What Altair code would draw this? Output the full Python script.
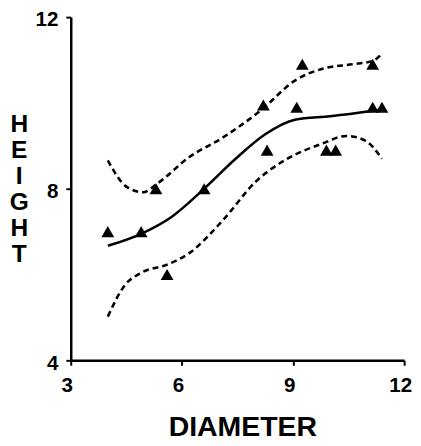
import altair as alt
import pandas as pd

# Observed points
pt_x = [4.0, 4.9, 5.3, 5.6, 6.6, 8.2, 8.3, 9.1, 9.25, 9.9, 10.15, 11.15, 11.15, 11.4]
pt_y = [7.0, 7.0, 8.0, 6.0, 8.0, 9.95, 8.9, 9.9, 10.9, 8.9, 8.9, 10.9, 9.9, 9.9]

# Fitted curve
fit_x = [4.0, 4.9, 5.7, 6.6, 7.45, 8.25, 9.05, 10.0, 11.4]
fit_y = [6.67, 6.95, 7.33, 8.0, 8.7, 9.27, 9.61, 9.69, 9.84]

# Upper confidence band
up_x = [4.0, 4.5, 4.95, 5.35, 6.2, 7.1, 8.15, 9.05, 9.9, 10.6, 11.15, 11.4]
up_y = [8.66, 8.05, 7.92, 8.13, 8.74, 9.19, 9.84, 10.52, 10.82, 10.9, 10.98, 11.15]

# Lower confidence band
lo_x = [4.0, 4.45, 4.9, 5.6, 6.2, 7.1, 8.0, 8.85, 9.75, 10.45, 10.95, 11.4]
lo_y = [5.02, 5.74, 6.04, 6.23, 6.5, 7.26, 8.17, 8.7, 9.04, 9.23, 9.12, 8.7]

pts = pd.DataFrame({"x": pt_x, "y": pt_y})
fit = pd.DataFrame({"x": fit_x, "y": fit_y})
up = pd.DataFrame({"x": up_x, "y": up_y})
lo = pd.DataFrame({"x": lo_x, "y": lo_y})

FONT = "Liberation Sans"

xs = alt.X("x:Q", scale=alt.Scale(domain=[3, 12], nice=False, zero=False),
           axis=alt.Axis(values=[3, 6, 9, 12], title="DIAMETER",
                         titleX=175, titleY=54, titleBaseline="top", titleAlign="center",
                         titleFontSize=29, titleFontWeight="bold", titleFont=FONT,
                         labelFontSize=21, labelFontWeight="bold", labelFont=FONT,
                         labelPadding=10, labelOffset=-4, tickSize=5, labelFlush=False))
ys = alt.Y("y:Q", scale=alt.Scale(domain=[4, 12], nice=False, zero=False),
           axis=alt.Axis(values=[4, 8, 12], title=["H", "E", "I", "G", "H", "T"],
                         titleAngle=0, titleAlign="center", titleBaseline="top",
                         titleX=-53, titleY=97, titleFontSize=25, titleLineHeight=26.5,
                         titleFontWeight="bold", titleFont=FONT,
                         labelFontSize=21, labelFontWeight="bold", labelFont=FONT,
                         labelPadding=8, labelOffset=3, tickSize=5, labelFlush=False))

points = alt.Chart(pts).mark_point(shape="triangle-up", filled=True, color="black",
                                   size=170, opacity=1).encode(x=xs, y=ys)
fit_line = alt.Chart(fit).mark_line(color="black", strokeWidth=2.6,
                                    interpolate="monotone").encode(x=xs, y=ys)
up_line = alt.Chart(up).mark_line(color="black", strokeWidth=2.6, strokeDash=[6, 4],
                                  interpolate="monotone").encode(x=xs, y=ys)
lo_line = alt.Chart(lo).mark_line(color="black", strokeWidth=2.6, strokeDash=[6, 4],
                                  interpolate="monotone").encode(x=xs, y=ys)

chart = alt.layer(up_line, lo_line, fit_line, points).properties(
    width=340, height=350,
    autosize=alt.AutoSizeParams(type="none"),
    padding={"left": 64, "top": 5, "right": 9, "bottom": 81},
).configure_view(stroke=None).configure_axis(
    grid=False, domainColor="black", domainWidth=2.5, tickColor="black",
    tickWidth=2, labelColor="black", titleColor="black"
)

chart.save("out.html", embed_options={"renderer": "svg", "actions": False})
